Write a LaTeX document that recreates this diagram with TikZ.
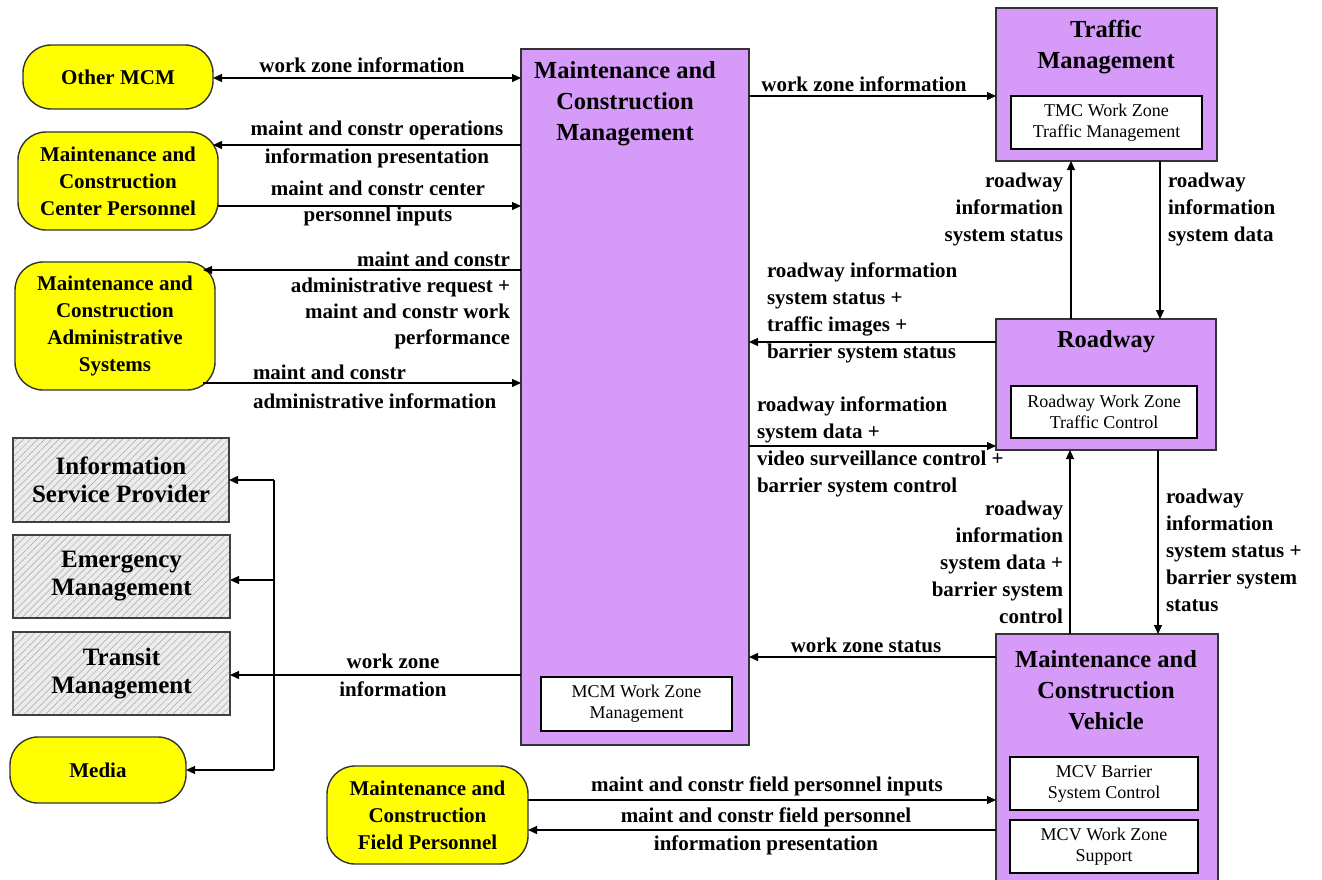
\documentclass[tikz,border=0pt]{standalone}
\usepackage{fontspec}
\setmainfont{Liberation Serif}
\usetikzlibrary{arrows.meta,patterns.meta}
\definecolor{sysfill}{RGB}{214,155,248}
\definecolor{extfill}{RGB}{255,255,0}
\definecolor{hatchbg}{RGB}{236,236,236}
\begin{document}
\begin{tikzpicture}[x=1pt,y=-1pt,
  every node/.style={inner sep=0pt,outer sep=0pt},
  sysbox/.style={draw=black!80,line width=1.6pt,fill=sysfill,rectangle},
  extbox/.style={draw=black!80,line width=1.4pt,fill=extfill,rounded corners=28pt,
     font=\fontsize{21}{27}\selectfont\bfseries,align=center},
  hatchbox/.style={draw=black!75,line width=1.4pt,
     preaction={fill=hatchbg},
     pattern={Lines[angle=45,distance=5pt,line width=0.5pt]},pattern color=black!35},
  innerbox/.style={draw=black,line width=1.3pt,fill=white,
     font=\fontsize{18}{21}\selectfont,align=center},
  systitle/.style={font=\fontsize{24.5}{31}\selectfont\bfseries,align=center},
  hatchtitle/.style={font=\fontsize{25}{28}\selectfont\bfseries,align=center},
  flowlbl/.style={font=\fontsize{21}{27}\selectfont\bfseries},
  flow/.style={line width=1.2pt,-{Triangle[length=9pt,width=8pt]}},
  flowboth/.style={line width=1.2pt,{Triangle[length=9pt,width=8pt]}-{Triangle[length=9pt,width=8pt]}},
  plain/.style={line width=1.2pt}
]
\useasboundingbox (0,0) rectangle (1322,880);

% ---- system boxes ----
\node[sysbox,minimum width=228pt,minimum height=696pt] (mcm) at (635,397) {};
\node[systitle] (mcmt) at (625,104) {Maintenance and\\Construction\\Management};
\node[innerbox,minimum width=191pt,minimum height=54pt] (mcmwz) at (636.5,704) {MCM Work Zone\\Management};

\node[sysbox,minimum width=221pt,minimum height=153pt] (tm) at (1106.5,84.5) {};
\node[systitle] (tmt) at (1106,47) {Traffic\\Management};
\node[innerbox,minimum width=191pt,minimum height=53pt] (tmcwz) at (1106.5,122.5) {TMC Work Zone\\Traffic Management};

\node[sysbox,minimum width=220pt,minimum height=131pt] (rw) at (1106,384.5) {};
\node[systitle] (rwt) at (1106,342) {Roadway};
\node[innerbox,minimum width=186pt,minimum height=52pt] (rwwz) at (1104,412) {Roadway Work Zone\\Traffic Control};

\node[sysbox,minimum width=222pt,minimum height=254pt] (mcv) at (1107,761) {};
\node[systitle] (mcvt) at (1106,690) {Maintenance and\\Construction\\Vehicle};
\node[innerbox,minimum width=188pt,minimum height=53pt] (mcvb) at (1104,783.5) {MCV Barrier\\System Control};
\node[innerbox,minimum width=188pt,minimum height=53pt] (mcvwz) at (1104,846.5) {MCV Work Zone\\Support};

% ---- external yellow boxes ----
\node[extbox,minimum width=190pt,minimum height=64pt] (other) at (118,77) {Other MCM};
\node[extbox,minimum width=200pt,minimum height=98pt] (cp) at (118,181) {Maintenance and\\Construction\\Center Personnel};
\node[extbox,minimum width=200pt,minimum height=128pt] (adm) at (115,326) {Maintenance and\\Construction\\Administrative\\Systems};
\node[extbox,minimum width=176pt,minimum height=66pt] (media) at (98,770) {Media};
\node[extbox,minimum width=201pt,minimum height=98pt] (fp) at (427.5,815) {Maintenance and\\Construction\\Field Personnel};

% ---- hatched boxes ----
\node[hatchbox,minimum width=216pt,minimum height=84pt] (isp) at (121,480) {};
\node[hatchtitle] at (isp) {Information\\Service Provider};
\node[hatchbox,minimum width=217pt,minimum height=83pt] (em) at (121.5,576.5) {};
\node[hatchtitle] at (em) {Emergency\\Management};
\node[hatchbox,minimum width=217pt,minimum height=83pt] (trm) at (121.5,673.5) {};
\node[hatchtitle] at (trm) {Transit\\Management};

% ---- coordinates ----
\coordinate (bus) at (274,0);

% ---- flows left ----
\draw[flowboth] (other.east |- 0,78) -- (mcm.west |- 0,78);
\node[flowlbl] (l1) at (362,65) {work zone information};

\draw[flow] (mcm.west |- 0,145) -- ([xshift=-5pt]cp.east |- 0,145);
\node[flowlbl,align=center,font=\fontsize{21}{28}\selectfont\bfseries] (l2) at (377,144) {maint and constr operations\\information presentation};

\draw[flow] (cp.east |- 0,206) -- (mcm.west |- 0,206);
\node[flowlbl,align=center,font=\fontsize{21}{26}\selectfont\bfseries] (l3) at (378,203) {maint and constr center\\personnel inputs};

\draw[flow] (mcm.west |- 0,270) -- ([xshift=-12pt]adm.east |- 0,270);
\node[flowlbl,align=right,anchor=east,font=\fontsize{21}{26}\selectfont\bfseries] (l4) at (510,300) {maint and constr\\administrative request +\\maint and constr work\\performance};

\draw[flow] ([xshift=-12pt]adm.east |- 0,383) -- (mcm.west |- 0,383);
\node[flowlbl,align=left,anchor=west,font=\fontsize{21}{29}\selectfont\bfseries] (l5) at (253,387) {maint and constr\\administrative information};

\draw[flow] (mcm.west |- 0,675) -- (trm.east |- 0,675);
\draw[plain] (bus |- isp.east) -- (bus |- media.east);
\draw[flow] (bus |- isp.east) -- (isp.east);
\draw[flow] (bus |- 0,580) -- (em.east |- 0,580);
\draw[flow] (bus |- media.east) -- (media.east);
\node[flowlbl,align=center,font=\fontsize{21}{28}\selectfont\bfseries] (l6) at (393,675) {work zone\\information};

% ---- flows right ----
\draw[flow] (mcm.east |- 0,96) -- (tm.west |- 0,96);
\node[flowlbl] (l7) at (864,84) {work zone information};

\draw[flow] (rw.north -| 1071,0) -- (tm.south -| 1071,0);
\node[flowlbl,align=right,anchor=east] (l8) at (1063,209) {roadway\\information\\system status};
\draw[flow] (tm.south -| 1160,0) -- (rw.north -| 1160,0);
\node[flowlbl,align=left,anchor=west] (l9) at (1168,209) {roadway\\information\\system data};

\draw[flow] (rw.west |- 0,342) -- (mcm.east |- 0,342);
\node[flowlbl,align=left,anchor=west] (l10) at (767,313) {roadway information\\system status +\\traffic images +\\barrier system status};

\draw[flow] (mcm.east |- 0,446) -- (rw.west |- 0,446);
\node[flowlbl,align=left,anchor=west] (l11) at (757,446.5) {roadway information\\system data +\\video surveillance control +\\barrier system control};

\draw[flow] (mcv.north -| 1070,0) -- (rw.south -| 1070,0);
\node[flowlbl,align=right,anchor=east] (l12) at (1063,562) {roadway\\information\\system data +\\barrier system\\control};
\draw[flow] (rw.south -| 1158,0) -- (mcv.north -| 1158,0);
\node[flowlbl,align=left,anchor=west] (l13) at (1166,550) {roadway\\information\\system status +\\barrier system\\status};

\draw[flow] (mcv.west |- 0,657) -- (mcm.east |- 0,657);
\node[flowlbl] (l14) at (866,645) {work zone status};

\draw[flow] (fp.east |- 0,800) -- (mcv.west |- 0,800);
\node[flowlbl] (l15) at (767,786) {maint and constr field personnel inputs};
\draw[flow] (mcv.west |- 0,830) -- (fp.east |- 0,830);
\node[flowlbl,align=center,font=\fontsize{21}{28}\selectfont\bfseries] (l16) at (766,831) {maint and constr field personnel\\information presentation};
\end{tikzpicture}
\end{document}
